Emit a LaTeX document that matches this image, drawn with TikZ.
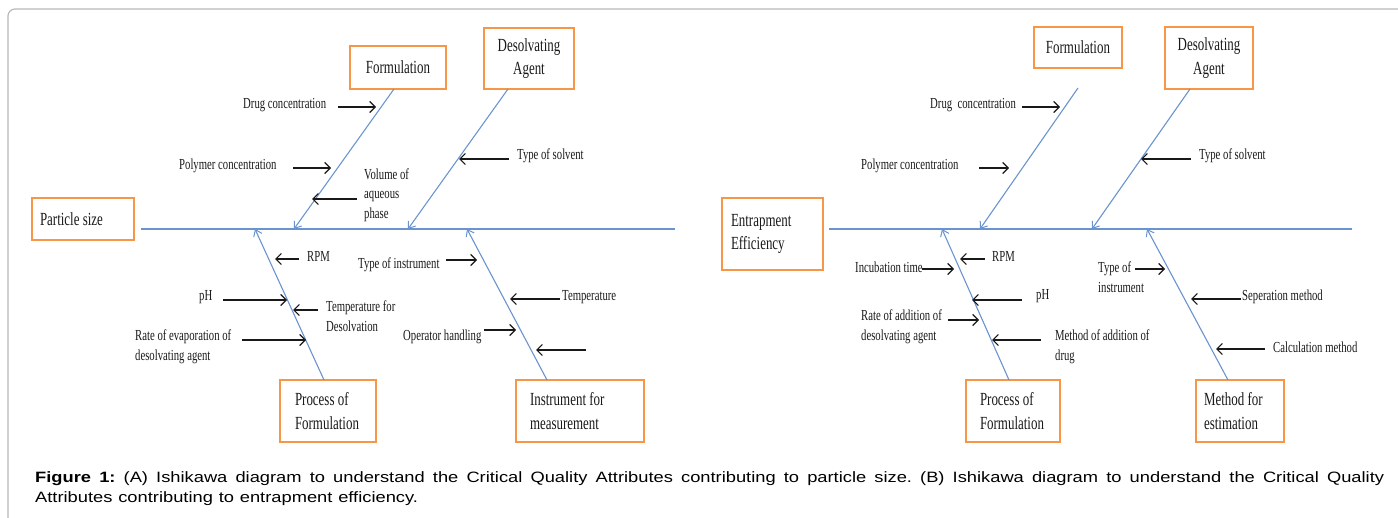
\documentclass[tikz,border=0pt]{standalone}
\usepackage{fontspec}
\usetikzlibrary{arrows.meta}
\newfontfamily\dfont[FakeStretch=0.7]{Liberation Serif}
\newfontfamily\capfont[FakeStretch=1.22,WordSpace=1.15]{Liberation Sans}
\definecolor{boxorange}{RGB}{247,150,70}
\definecolor{fishblue}{RGB}{105,148,208}
\definecolor{framegray}{RGB}{185,185,185}
\definecolor{arrowblack}{RGB}{25,25,25}
\newcommand\natspaces{\spaceskip=0pt\xspaceskip=0pt\relax}
\tikzset{
  catbox/.style={draw=boxorange, line width=2.4, inner ysep=0,
    font=\dfont\fontsize{18.5}{23.5}\selectfont, text=arrowblack,
    execute at begin node=\natspaces},
  lbl/.style={inner sep=0, anchor=west, align=left,
    font=\dfont\fontsize{15.3}{19.5}\selectfont, text=arrowblack},
  spine/.style={draw=fishblue, line width=1.8},
  bone/.style={draw=fishblue, line width=1.1,
    -{Straight Barb[length=6,width=9,line width=1]}},
  cause/.style={draw=arrowblack, line width=1.2,
    -{Straight Barb[length=5.5,width=11]}},
}
\begin{document}
\begin{tikzpicture}[x=1pt,y=-1pt]
\useasboundingbox (0,0) rectangle (1398,518);
% frame
\coordinate (frA) at (8,519);
\coordinate (frB) at (8,9);
\coordinate (frC) at (1399,9);
\draw[framegray, line width=1.2, rounded corners=7] (frA) -- (frB) -- (frC);

% ================= Diagram A =================
\node[catbox, minimum width=96, minimum height=43, text width=86, inner xsep=5, align=center] (formL) at (398,67.5) {Formulation};
\node[catbox, minimum width=90, minimum height=61, text width=80, inner xsep=5, align=center] (desL) at (529,58.5) {Desolvating\\Agent};
\node[catbox, minimum width=102, minimum height=42, text width=86, inner xsep=8, align=left] (psize) at (83,219) {Particle size};
\node[catbox, minimum width=96, minimum height=62, text width=66, inner xsep=15, align=left] (procL) at (328,411) {Process of\\Formulation};
\node[catbox, minimum width=128, minimum height=62, text width=100, inner xsep=14, align=left] (instr) at (580,411) {Instrument for\\measurement};

\coordinate (spLa) at (141,229);
\coordinate (spLb) at (675,229);
\draw[spine] (spLa) -- (spLb);

\coordinate (fLt) at (394,89);  \coordinate (fLs) at (294,229);
\coordinate (dLt) at (508,89);  \coordinate (dLs) at (408,229);
\coordinate (pLt) at (324,380); \coordinate (pLs) at (255,229);
\coordinate (iLt) at (547,380); \coordinate (iLs) at (467,229);
\draw[bone] (fLt) -- (fLs);
\draw[bone] (dLt) -- (dLs);
\draw[bone] (pLt) -- (pLs);
\draw[bone] (iLt) -- (iLs);

\node[lbl] (a1) at (243,105) {Drug concentration};
\coordinate (a1s) at (338,107); \coordinate (a1e) at (376,107);
\draw[cause] (a1s) -- (a1e);
\node[lbl] (a2) at (179,166) {Polymer concentration};
\coordinate (a2s) at (293,168); \coordinate (a2e) at (331,168);
\draw[cause] (a2s) -- (a2e);
\node[lbl] (a3) at (364,195) {Volume of\\aqueous\\phase};
\coordinate (a3s) at (357,199); \coordinate (a3e) at (312,199);
\draw[cause] (a3s) -- (a3e);
\node[lbl] (a4) at (517,156) {Type of solvent};
\coordinate (a4s) at (509,159); \coordinate (a4e) at (459,159);
\draw[cause] (a4s) -- (a4e);
\node[lbl] (a5) at (307,256) {RPM};
\coordinate (a5s) at (299,259); \coordinate (a5e) at (275,259);
\draw[cause] (a5s) -- (a5e);
\node[lbl] (a6) at (358,265) {Type of instrument};
\coordinate (a6s) at (446,260); \coordinate (a6e) at (477,260);
\draw[cause] (a6s) -- (a6e);
\node[lbl] (a7) at (199,297) {pH};
\coordinate (a7s) at (223,300); \coordinate (a7e) at (287,300);
\draw[cause] (a7s) -- (a7e);
\node[lbl] (a8) at (326,316) {Temperature for\\Desolvation};
\coordinate (a8s) at (318,310); \coordinate (a8e) at (293,310);
\draw[cause] (a8s) -- (a8e);
\node[lbl] (a9) at (135,347) {Rate of evaporation of\\desolvating agent};
\coordinate (a9s) at (242,340); \coordinate (a9e) at (306,340);
\draw[cause] (a9s) -- (a9e);
\node[lbl] (a10) at (562,297) {Temperature};
\coordinate (a10s) at (560,299); \coordinate (a10e) at (510,299);
\draw[cause] (a10s) -- (a10e);
\node[lbl] (a11) at (403,337) {Operator handling};
\coordinate (a11s) at (484,330); \coordinate (a11e) at (516,330);
\draw[cause] (a11s) -- (a11e);
\coordinate (a12s) at (586,350); \coordinate (a12e) at (536,350);
\draw[cause] (a12s) -- (a12e);

% ================= Diagram B =================
\node[catbox, minimum width=88, minimum height=41, text width=78, inner xsep=5, align=center] (formR) at (1078,47.5) {Formulation};
\node[catbox, minimum width=88, minimum height=62, text width=78, inner xsep=5, align=center] (desR) at (1209,58) {Desolvating\\Agent};
\node[catbox, minimum width=101, minimum height=72, text width=83, inner xsep=9, align=left] (entr) at (772.5,234) {Entrapment\\Efficiency};
\node[catbox, minimum width=94, minimum height=62, text width=66, inner xsep=14, align=left] (procR) at (1013,411) {Process of\\Formulation};
\node[catbox, minimum width=88, minimum height=62, text width=72, inner xsep=8, align=left] (meth) at (1240,411) {Method for\\estimation};

\coordinate (spRa) at (829,229);
\coordinate (spRb) at (1352,229);
\draw[spine] (spRa) -- (spRb);

\coordinate (fRt) at (1078,88);  \coordinate (fRs) at (980,229);
\coordinate (dRt) at (1190,89);  \coordinate (dRs) at (1092,229);
\coordinate (pRt) at (1009,380); \coordinate (pRs) at (942,229);
\coordinate (mRt) at (1228,380); \coordinate (mRs) at (1147,229);
\draw[bone] (fRt) -- (fRs);
\draw[bone] (dRt) -- (dRs);
\draw[bone] (pRt) -- (pRs);
\draw[bone] (mRt) -- (mRs);

\node[lbl] (b1) at (930,105) {Drug\ \ concentration};
\coordinate (b1s) at (1022,107); \coordinate (b1e) at (1060,107);
\draw[cause] (b1s) -- (b1e);
\node[lbl] (b2) at (861,166) {Polymer concentration};
\coordinate (b2s) at (979,168); \coordinate (b2e) at (1009,168);
\draw[cause] (b2s) -- (b2e);
\node[lbl] (b3) at (1199,156) {Type of solvent};
\coordinate (b3s) at (1191,159); \coordinate (b3e) at (1141,159);
\draw[cause] (b3s) -- (b3e);
\node[lbl] (b4) at (992,256) {RPM};
\coordinate (b4s) at (985,259); \coordinate (b4e) at (960,259);
\draw[cause] (b4s) -- (b4e);
\node[lbl] (b5) at (855,267) {Incubation time};
\coordinate (b5s) at (922,269); \coordinate (b5e) at (954,269);
\draw[cause] (b5s) -- (b5e);
\node[lbl] (b6) at (1036,296) {pH};
\coordinate (b6s) at (1022,300); \coordinate (b6e) at (972,300);
\draw[cause] (b6s) -- (b6e);
\node[lbl] (b7) at (861,327) {Rate of addition of\\desolvating agent};
\coordinate (b7s) at (948,320); \coordinate (b7e) at (979,320);
\draw[cause] (b7s) -- (b7e);
\node[lbl] (b8) at (1055,347) {Method of addition of\\drug};
\coordinate (b8s) at (1041,340); \coordinate (b8e) at (992,340);
\draw[cause] (b8s) -- (b8e);
\node[lbl] (b9) at (1098,277) {Type of\\instrument};
\coordinate (b9s) at (1135,269); \coordinate (b9e) at (1165,269);
\draw[cause] (b9s) -- (b9e);
\node[lbl] (b10) at (1242,297) {Seperation method};
\coordinate (b10s) at (1241,299); \coordinate (b10e) at (1191,299);
\draw[cause] (b10s) -- (b10e);
\node[lbl] (b11) at (1273,347) {Calculation method};
\coordinate (b11s) at (1265,349); \coordinate (b11e) at (1216,349);
\draw[cause] (b11s) -- (b11e);

% caption
\node[inner sep=0, anchor=base west, text width=1349, align=justify,
  font=\capfont\fontsize{15}{19.3}\selectfont] (cap) at (35,482.7)
  {\frenchspacing\textbf{Figure 1:} (A) Ishikawa diagram to understand the Critical Quality Attributes contributing to particle size. (B) Ishikawa diagram to understand the Critical Quality\linebreak Attributes contributing to entrapment efficiency.};
\end{tikzpicture}
\end{document}
